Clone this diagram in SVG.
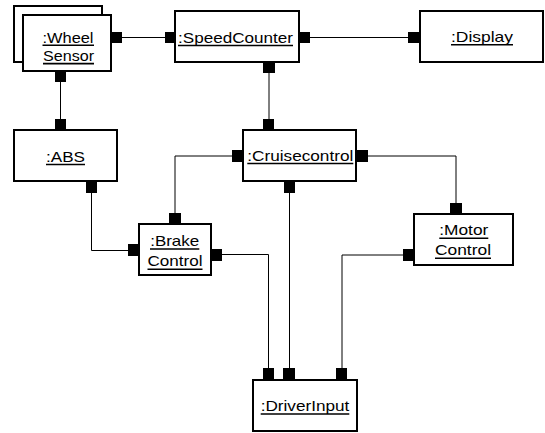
<svg xmlns="http://www.w3.org/2000/svg" width="545" height="433" viewBox="0 0 545 433">
<style>
.box{fill:#fff;stroke:#000;stroke-width:2}
.port{fill:#000}
.lbl{font-family:"Liberation Sans",Arial,sans-serif;font-size:15px;fill:#000;text-anchor:middle}
.ul{stroke:#000;stroke-width:1.6}
.con{fill:none;stroke:#000;stroke-width:1}
</style>
<rect width="545" height="433" fill="#fff"/>
<g id="connectors">
<polyline class="con" points="122,37.5 165,37.5"/>
<polyline class="con" points="310,37.5 408,37.5"/>
<polyline class="con" points="60.5,82 60.5,119"/>
<polyline class="con" points="269,73 269,119"/>
<polyline class="con" points="91.5,193 91.5,250.5 128,250.5"/>
<polyline class="con" points="232,156 175,156 175,213"/>
<polyline class="con" points="368,156 456,156 456,203"/>
<polyline class="con" points="289.5,193 289.5,368"/>
<polyline class="con" points="222,254.5 268.5,254.5 268.5,368"/>
<polyline class="con" points="403,255 342,255 342,368"/>
</g>
<g id="wheelsensor">
<rect class="box" x="14" y="6" width="88" height="56"/>
<rect class="box" x="23" y="15" width="88" height="56"/>
<rect class="port" x="112" y="32" width="10" height="11"/>
<rect class="port" x="55" y="72" width="11" height="10"/>
<text class="lbl" x="68" y="42.5" textLength="51" lengthAdjust="spacingAndGlyphs">:Wheel</text>
<line class="ul" x1="42.5" y1="45.2" x2="94" y2="45.2"/>
<text class="lbl" x="68.5" y="61" textLength="51" lengthAdjust="spacingAndGlyphs">Sensor</text>
<line class="ul" x1="43" y1="63.6" x2="94" y2="63.6"/>
</g>
<g id="speedcounter">
<rect class="box" x="175" y="11" width="124" height="51"/>
<rect class="port" x="165" y="32" width="10" height="11"/>
<rect class="port" x="300" y="32" width="10" height="11"/>
<rect class="port" x="263" y="63" width="12" height="10"/>
<text class="lbl" x="235.5" y="42.5" textLength="115" lengthAdjust="spacingAndGlyphs">:SpeedCounter</text>
<line class="ul" x1="178" y1="45.5" x2="293" y2="45.5"/>
</g>
<g id="display">
<rect class="box" x="420" y="11" width="123" height="51"/>
<rect class="port" x="408" y="32" width="11" height="11"/>
<text class="lbl" x="482" y="42" textLength="62" lengthAdjust="spacingAndGlyphs">:Display</text>
<line class="ul" x1="451" y1="44.8" x2="513" y2="44.8"/>
</g>
<g id="abs">
<rect class="box" x="14" y="130" width="103" height="51"/>
<rect class="port" x="55" y="119" width="11" height="10"/>
<rect class="port" x="86" y="182" width="11" height="11"/>
<text class="lbl" x="65.5" y="161.5" textLength="39" lengthAdjust="spacingAndGlyphs">:ABS</text>
<line class="ul" x1="46" y1="164.5" x2="85" y2="164.5"/>
</g>
<g id="cruisecontrol">
<rect class="box" x="243" y="130" width="113" height="51"/>
<rect class="port" x="263" y="119" width="11" height="10"/>
<rect class="port" x="232" y="150" width="10" height="12"/>
<rect class="port" x="357" y="150" width="11" height="12"/>
<rect class="port" x="284" y="182" width="11" height="11"/>
<text class="lbl" x="300.3" y="160.5" textLength="106" lengthAdjust="spacingAndGlyphs">:Cruisecontrol</text>
<line class="ul" x1="247.3" y1="163.5" x2="353.3" y2="163.5"/>
</g>
<g id="brakecontrol">
<rect class="box" x="139" y="224" width="72" height="51"/>
<rect class="port" x="169" y="213" width="12" height="10"/>
<rect class="port" x="128" y="244" width="10" height="12"/>
<rect class="port" x="212" y="249" width="10" height="12"/>
<text class="lbl" x="174.7" y="245.5" textLength="49" lengthAdjust="spacingAndGlyphs">:Brake</text>
<line class="ul" x1="150" y1="249" x2="199.3" y2="249"/>
<text class="lbl" x="175" y="266" textLength="55" lengthAdjust="spacingAndGlyphs">Control</text>
<line class="ul" x1="147.5" y1="269.3" x2="202.5" y2="269.3"/>
</g>
<g id="motorcontrol">
<rect class="box" x="414" y="214" width="99" height="51"/>
<rect class="port" x="450" y="203" width="12" height="10"/>
<rect class="port" x="403" y="249" width="10" height="12"/>
<text class="lbl" x="463.8" y="235" textLength="49" lengthAdjust="spacingAndGlyphs">:Motor</text>
<line class="ul" x1="439.3" y1="238.3" x2="488.3" y2="238.3"/>
<text class="lbl" x="463" y="255" textLength="56" lengthAdjust="spacingAndGlyphs">Control</text>
<line class="ul" x1="435" y1="258.3" x2="491" y2="258.3"/>
</g>
<g id="driverinput">
<rect class="box" x="253" y="380" width="104" height="51"/>
<rect class="port" x="263" y="368" width="11" height="11"/>
<rect class="port" x="283" y="368" width="12" height="11"/>
<rect class="port" x="336" y="368" width="11" height="11"/>
<text class="lbl" x="305" y="410.5" textLength="88.6" lengthAdjust="spacingAndGlyphs">:DriverInput</text>
<line class="ul" x1="260.7" y1="414" x2="349.3" y2="414"/>
</g>
</svg>
